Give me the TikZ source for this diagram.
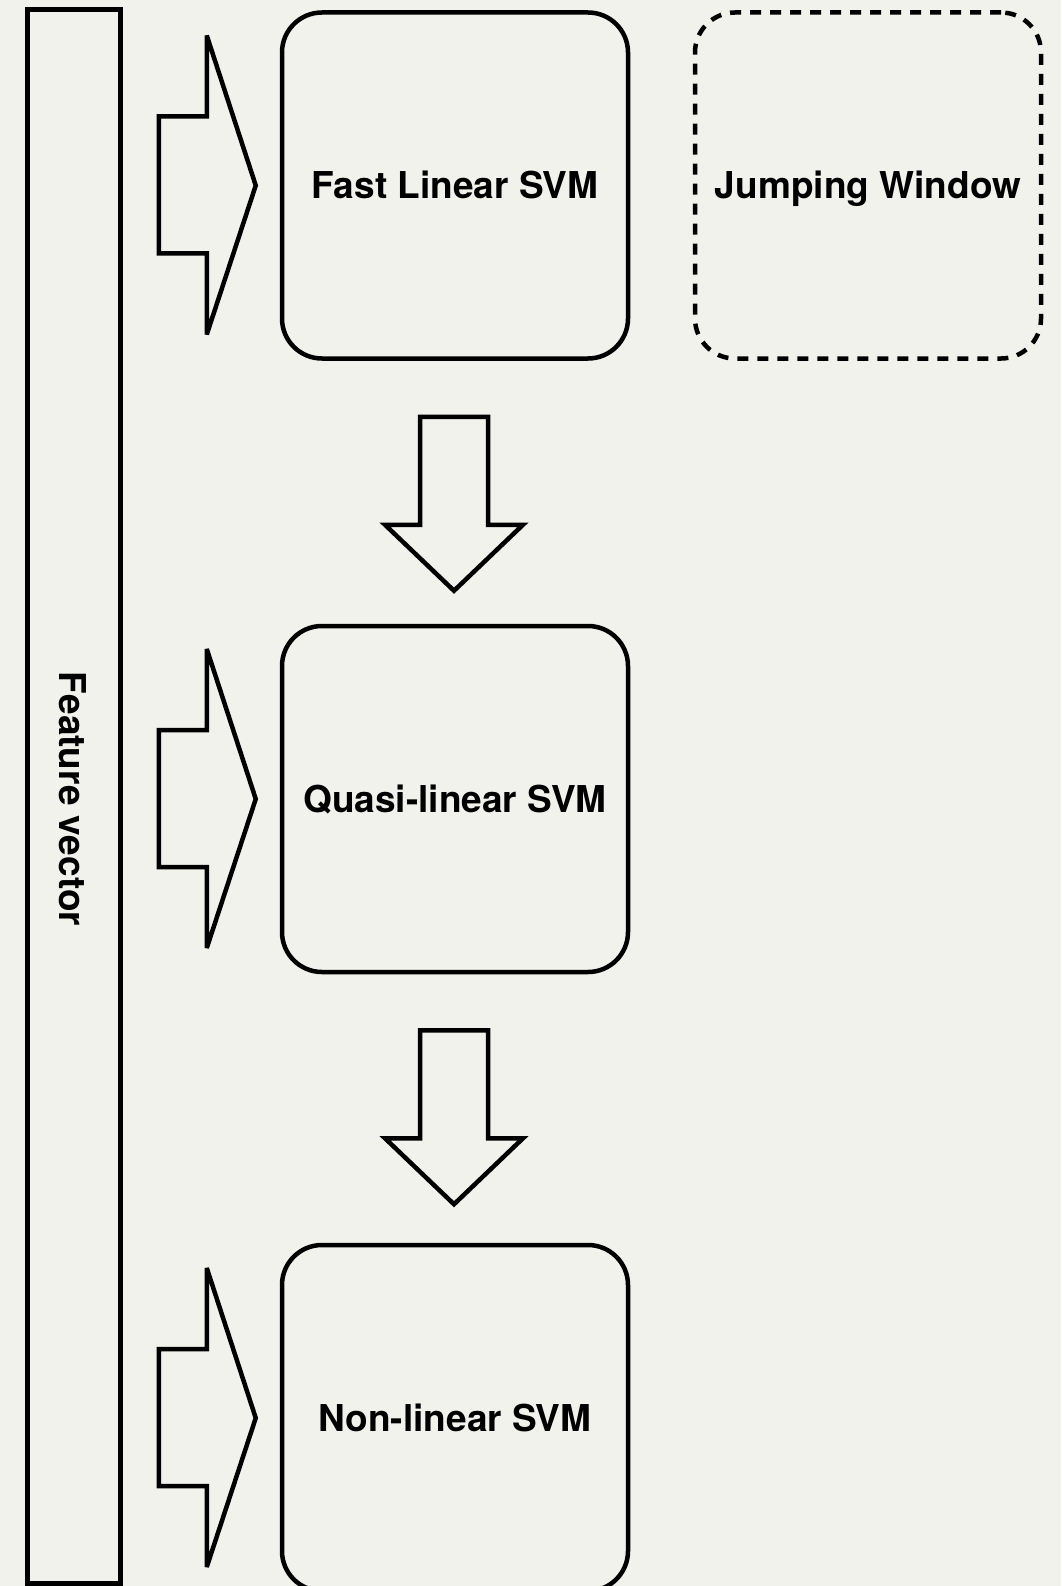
\documentclass[tikz,border=0pt]{standalone}
\usepackage{fontspec}
\setmainfont{TeX Gyre Heros}
\definecolor{paper}{RGB}{242,242,236}
\tikzset{
  outline/.style={draw=black, line width=4.5pt},
  labelfont/.style={font=\fontsize{37}{44}\selectfont\bfseries, text height=26.5pt, text depth=0pt},
  stage/.style={outline, rounded corners=40pt, minimum width=346pt, minimum height=346pt,
    inner sep=0pt, labelfont},
  bigarrow/.style={outline, fill=paper, miter limit=4},
}
\begin{document}
\begin{tikzpicture}[x=1pt, y=-1pt]
  \fill[paper] (0,0) rectangle (1061,1586);
  \useasboundingbox (0,0) rectangle (1061,1586);
  \clip (0,0) rectangle (1061,1586);

  % input bar
  \node[outline, minimum width=93pt, minimum height=1574pt, inner sep=0pt] (fv) at (74,796.5) {};
  \node[labelfont, rotate=-90, inner sep=0pt] (fvlabel) at (73,799) {Feature vector};

  % classifier stages
  \node[stage] (b1) at (455,185.5) {Fast Linear SVM};
  \node[stage] (b2) at (455,799) {Quasi-linear SVM};
  \node[stage] (b3) at (455,1418) {Non-linear SVM};
  \node[stage, dashed, dash pattern=on 11pt off 9pt] (jw) at (868,185.5) {Jumping Window};

  % feature inputs into each stage
  \foreach \b in {b1,b2,b3}{
    \draw[bigarrow, shift={(\b.west)}]
      (-121,-69) -- (-73,-69) -- (-73,-150) -- (-24,0) -- (-73,149)
      -- (-73,68) -- (-121,68) -- cycle;
  }

  % cascade between stages
  \foreach \b in {b1,b2}{
    \draw[bigarrow, shift={(\b.south)}]
      (-35,56) -- (33,56) -- (33,164) -- (68,164) -- (-1,230)
      -- (-70,164) -- (-35,164) -- cycle;
  }
\end{tikzpicture}
\end{document}
